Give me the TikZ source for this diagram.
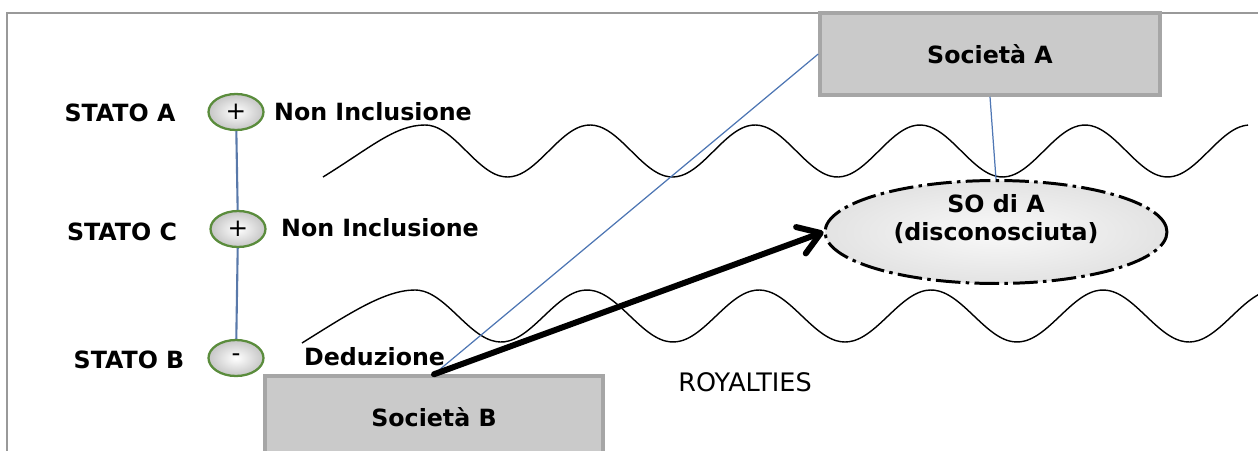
\documentclass[tikz,border=0pt]{standalone}
\usepackage{fontspec}
\setmainfont{DejaVu Sans}
\usepackage{tikz}
\usetikzlibrary{shapes.geometric, arrows.meta}
\definecolor{linkblue}{RGB}{79,119,180}
\definecolor{boxgray}{RGB}{202,202,202}
\definecolor{signgreen}{RGB}{90,140,60}

\begin{document}
\begin{tikzpicture}[x=0.02cm, y=-0.02cm,
  bold/.style={font=\bfseries\fontsize{13.5}{16}\selectfont},
  sign/.style={ellipse, draw=signgreen, line width=1.3pt, inner color=white, outer color=gray!45,
    minimum width=1.1cm, minimum height=0.72cm, inner sep=0pt, font=\fontsize{14}{16}\selectfont},
  societa/.style={rectangle, draw=gray!70, line width=2pt, fill=boxgray, bold,
    minimum width=6.8cm, minimum height=1.64cm},
  wave/.style={black, line width=0.8pt, samples=200, smooth}]
\useasboundingbox (0,0) rectangle (1258,450);
\draw[gray!80, line width=0.8pt] (7,455) -- (7,13) -- (1262,13);
% stati
\node[bold] (statoA) at (120,113) {STATO A};
\node[bold] (statoC) at (122,232) {STATO C};
\node[bold] (statoB) at (129,360) {STATO B};
\node[sign] (sA) at (236,112) {+};
\node[sign] (sC) at (238,229) {+};
\node[sign] (sB) at (236,358) {-};
\draw[linkblue!80!gray, line width=1.2pt] (sA) -- (sC) -- (sB);
\node[bold, anchor=west] (inclA) at (268,112) {Non Inclusione};
\node[bold, anchor=west] (inclC) at (275,228) {Non Inclusione};
\node[bold, anchor=west] (dedB) at (298,357) {Deduzione};
% onde
\draw[wave] (323,177) .. controls (370,148) and (395,125) .. (425,125)
  -- plot[domain=425:1248] (\x, {151 - 26*cos(360/165*(\x-425))});
\draw[wave] (302,343) .. controls (350,313) and (385,290) .. (415,290)
  -- plot[domain=415:1262] (\x, {316 - 26*cos(360/172*(\x-415))});
% societa
\node[societa] (socA) at (990,54) {Società A};
\node[societa, minimum width=6.76cm] (socB) at (434,417) {Società B};
\node[ellipse, inner color=gray!5, outer color=gray!22, draw=black, line width=1.7pt,
  dash pattern=on 14pt off 3pt on 2pt off 3pt,
  minimum width=6.84cm, minimum height=2.06cm] (so) at (996,232) {};
\node[bold, align=center] (soText) at (996,219) {SO di A\\(disconosciuta)};
\draw[linkblue, line width=0.7pt] (socB.north) -- (socA.west);
\draw[linkblue, line width=0.7pt] (socA.south) -- (so.north);
\draw[line width=3.4pt, line cap=round, -{Straight Barb[length=12pt, width=16pt, round]}] (socB.north) -- (so.west);
\node[font=\fontsize{14.5}{17}\selectfont] (roy) at (745,382) {ROYALTIES};
\end{tikzpicture}
\end{document}
